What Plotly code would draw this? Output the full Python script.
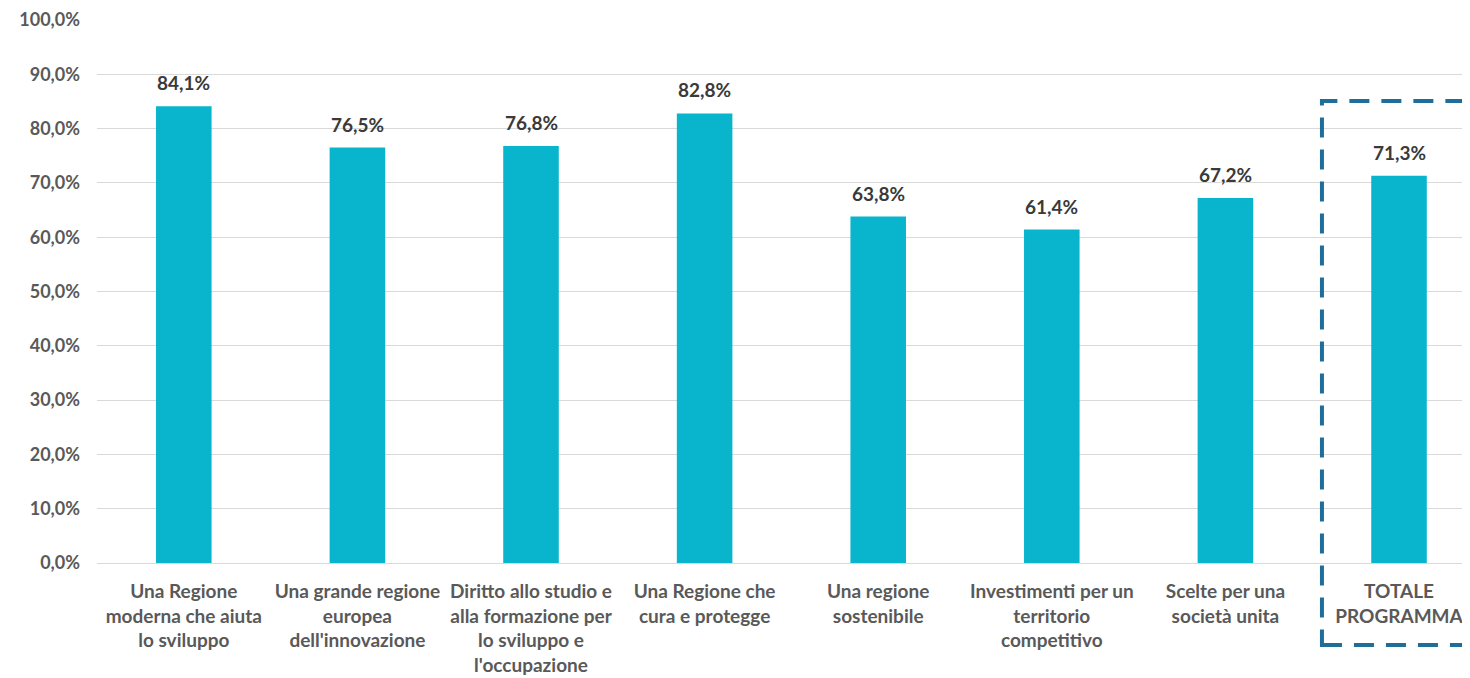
import plotly.graph_objects as go

categories = [
    "Una Regione<br>moderna che aiuta<br>lo sviluppo",
    "Una grande regione<br>europea<br>dell'innovazione",
    "Diritto allo studio e<br>alla formazione per<br>lo sviluppo e<br>l'occupazione",
    "Una Regione che<br>cura e protegge",
    "Una regione<br>sostenibile",
    "Investimenti per un<br>territorio<br>competitivo",
    "Scelte per una<br>società unita",
    "TOTALE<br>PROGRAMMA",
]
values = [84.1, 76.5, 76.8, 82.8, 63.8, 61.4, 67.2, 71.3]
value_labels = ["84,1%", "76,5%", "76,8%", "82,8%", "63,8%", "61,4%", "67,2%", "71,3%"]
y_ticks = [0, 10, 20, 30, 40, 50, 60, 70, 80, 90, 100]
y_tick_labels = ["0,0%", "10,0%", "20,0%", "30,0%", "40,0%", "50,0%",
                 "60,0%", "70,0%", "80,0%", "90,0%", "100,0%"]

FONT = "Lato"
xs = list(range(len(categories)))

fig = go.Figure(
    go.Bar(
        x=xs,
        y=values,
        marker=dict(color="#08B5CD", line=dict(width=0)),
        width=0.32,
        hoverinfo="skip",
    )
)

annotations = [
    dict(
        x=x, y=v, xref="x", yref="y", text=t, showarrow=False,
        yanchor="bottom", yshift=10,
        font=dict(family=FONT, size=19, color="#3A3A3A", weight="bold"),
    )
    for x, v, t in zip(xs, values, value_labels)
]

fig.update_layout(
    width=1470,
    height=678,
    margin=dict(l=89, r=0, t=12, b=123),
    paper_bgcolor="white",
    plot_bgcolor="white",
    showlegend=False,
    font=dict(family=FONT),
    annotations=annotations,
    xaxis=dict(
        tickmode="array",
        tickvals=xs,
        ticktext=categories,
        range=[-0.5, 7.455],
        tickangle=0,
        automargin=False,
        tickfont=dict(family=FONT, size=19, color="#595959", weight="bold"),
        showgrid=False,
        zeroline=False,
        showline=False,
        ticks="",
        ticklabelstandoff=15,
    ),
    yaxis=dict(
        range=[0, 100],
        tickmode="array",
        tickvals=y_ticks,
        ticktext=y_tick_labels,
        automargin=False,
        tickfont=dict(family=FONT, size=18, color="#595959", weight="bold"),
        showgrid=True,
        gridcolor="#D9D9D9",
        gridwidth=1,
        zeroline=True,
        zerolinecolor="#D9D9D9",
        zerolinewidth=1,
        showline=False,
        ticks="",
        ticklabelstandoff=16,
    ),
    shapes=[
        dict(
            type="rect",
            xref="paper",
            yref="paper",
            x0=0.887,
            x1=1.02,
            y0=-0.151,
            y1=0.851,
            line=dict(color="#1F6E99", width=4, dash="20px,12px"),
            fillcolor="rgba(0,0,0,0)",
            layer="above",
        )
    ],
)

fig.write_html("out.html")
